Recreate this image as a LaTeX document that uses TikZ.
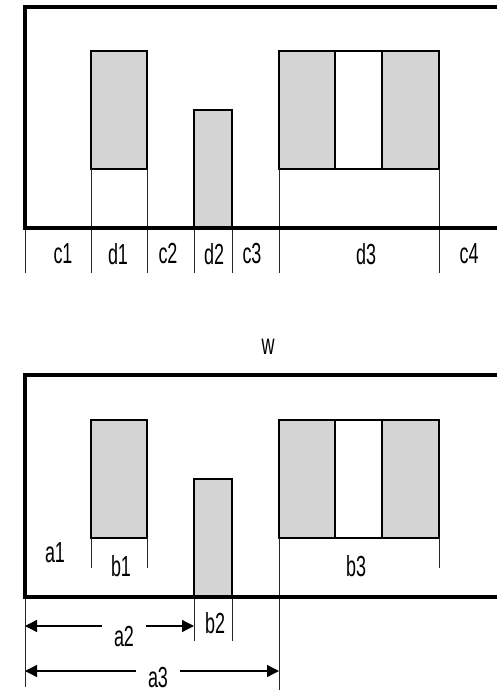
\documentclass[tikz,border=0pt]{standalone}
\usepackage{fontspec}
\setmainfont{Liberation Sans}[FakeStretch=0.62]
\usetikzlibrary{arrows.meta}
\definecolor{partgray}{RGB}{212,212,212}
\tikzset{
  frame/.style={line width=3.6pt},
  part/.style={draw, line width=1.2pt, fill=partgray},
  tick/.style={line width=1pt, black!85},
  lbl/.style={font=\fontsize{29}{30}\selectfont, inner sep=0pt},
  dim/.style={line width=1.3pt, {Triangle[length=12pt,width=12pt]}-{Triangle[length=12pt,width=12pt]}}
}

\begin{document}
\begin{tikzpicture}[x=1pt, y=-1pt]
\useasboundingbox (0,0) rectangle (496,693);
% upper layout
\draw [part] (91,51) rectangle (147,169);
\draw [part] (194,110) rectangle (232,228);
\draw [part] (279,51) rectangle (335,169);
\draw [part] (382,51) rectangle (439,169);
\draw [line width=1.2pt] (335,51) -- (382,51);
\draw [line width=1.2pt] (335,169) -- (382,169);
\foreach \x in {91,147,279,439}
  \draw [tick] (\x,169) -- (\x,273);
\foreach \x in {25,194,232}
  \draw [tick] (\x,228) -- (\x,273);
\draw [frame] (497,7) -- (25,7) -- (25,228) -- (497,228);
\node [lbl] (c1) at (63,254) {c1};
\node [lbl] (d1) at (118,254) {d1};
\node [lbl] (c2) at (168,254) {c2};
\node [lbl] (d2) at (214,254) {d2};
\node [lbl] (c3) at (252,254) {c3};
\node [lbl] (d3) at (366,254) {d3};
\node [lbl] (c4) at (469,254) {c4};
\node [lbl] (w) at (268,347) {w};
% lower layout
\draw [part] (91,420) rectangle (147,538);
\draw [part] (194,479) rectangle (232,597);
\draw [part] (279,420) rectangle (335,538);
\draw [part] (382,420) rectangle (439,538);
\draw [line width=1.2pt] (335,420) -- (382,420);
\draw [line width=1.2pt] (335,538) -- (382,538);
\foreach \x in {91,147,439}
  \draw [tick] (\x,538) -- (\x,568);
\foreach \x in {194,232}
  \draw [tick] (\x,597) -- (\x,641);
\draw [tick] (279,538) -- (279,690);
\draw [tick] (25,597) -- (25,687);
\draw [frame] (497,375) -- (25,375) -- (25,597) -- (497,597);
% dimensions
\coordinate (a2s) at (25,626);
\coordinate (a2e) at (194,626);
\coordinate (a3s) at (25,671);
\coordinate (a3e) at (279,671);
\draw [dim] (a2s) -- (a2e);
\draw [dim] (a3s) -- (a3e);
\node [lbl] (a1) at (55,553) {a1};
\node [lbl] (b1) at (121,566) {b1};
\node [lbl] (b2) at (215,623) {b2};
\node [lbl] (b3) at (356,566) {b3};
\node [lbl, fill=white, minimum width=44pt, minimum height=50pt] (a2) at (124,637) {a2};
\node [lbl, fill=white, minimum width=44pt, minimum height=40pt] (a3) at (158,678) {a3};
\end{tikzpicture}
\end{document}
